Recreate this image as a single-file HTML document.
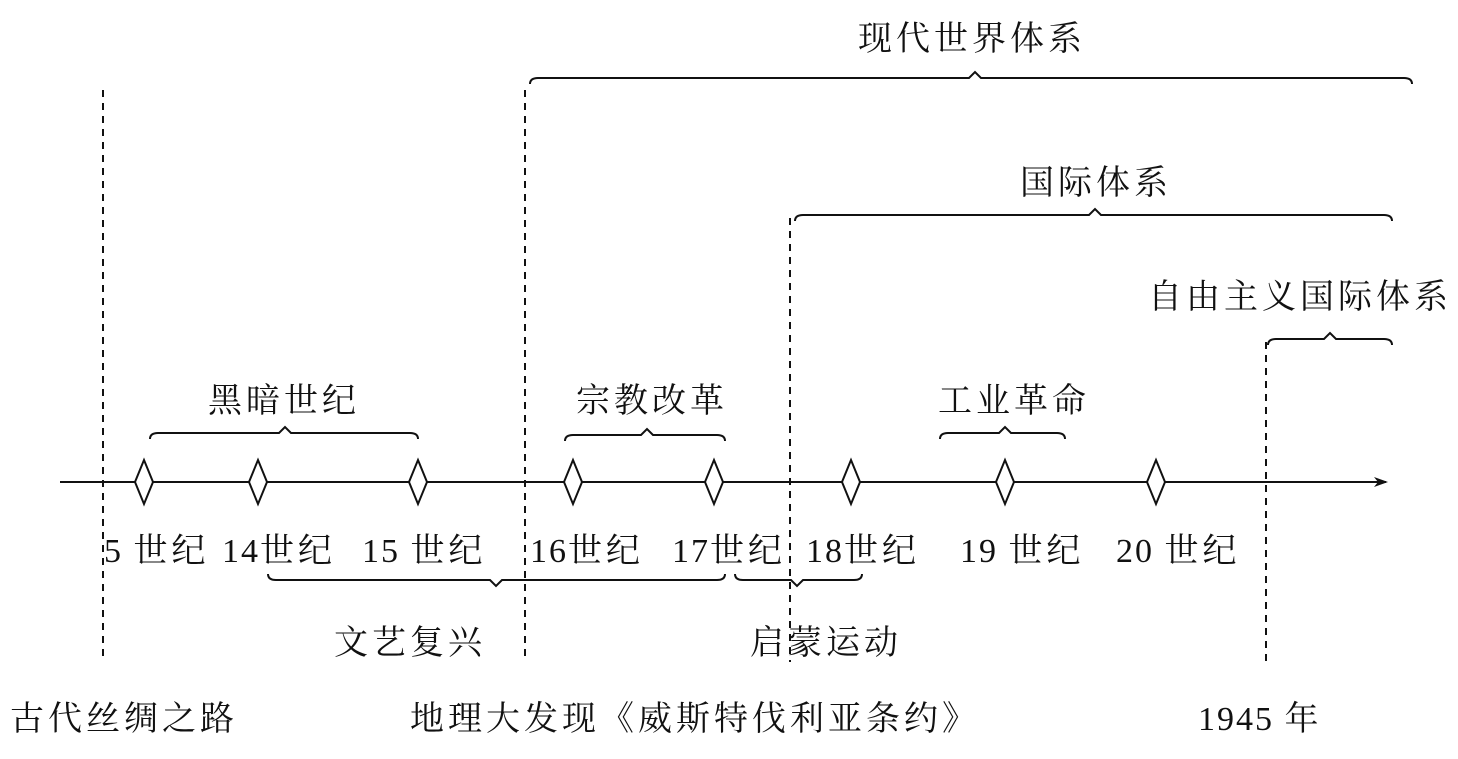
<!DOCTYPE html>
<html><head><meta charset="utf-8"><style>
html,body{margin:0;padding:0;background:#fff;}
svg text{font-family:"Liberation Serif","Noto Serif CJK SC",serif;font-size:34px;fill:#111;letter-spacing:4px;}
svg tspan.d{letter-spacing:2px;}
</style></head><body>
<svg width="1458" height="754" viewBox="0 0 1458 754" xmlns="http://www.w3.org/2000/svg">
<defs><marker id="a" markerWidth="14" markerHeight="10" refX="12" refY="5" orient="auto" markerUnits="userSpaceOnUse"><path d="M0,0 L14,5 L0,10 L4,5 Z" fill="#111"/></marker></defs>
<g stroke="#111" stroke-width="2" fill="none">
<line x1="60" y1="482" x2="1386" y2="482" marker-end="url(#a)"/>
<g stroke-dasharray="7,6">
<line x1="103" y1="90" x2="103" y2="662"/>
<line x1="525" y1="90" x2="525" y2="662"/>
<line x1="790" y1="218" x2="790" y2="662"/>
<line x1="1266" y1="342" x2="1266" y2="662"/>
</g>
<g fill="#fff">
<path d="M144,460 L153,482 L144,504 L135,482 Z"/>
<path d="M258,460 L267,482 L258,504 L249,482 Z"/>
<path d="M418,460 L427,482 L418,504 L409,482 Z"/>
<path d="M573,460 L582,482 L573,504 L564,482 Z"/>
<path d="M714,460 L723,482 L714,504 L705,482 Z"/>
<path d="M851,460 L860,482 L851,504 L842,482 Z"/>
<path d="M1005,460 L1014,482 L1005,504 L996,482 Z"/>
<path d="M1156,460 L1165,482 L1156,504 L1147,482 Z"/>
</g>
<path d="M530,84 Q530,78 538,78 L969,78 L975,72 L981,78 L1404,78 Q1412,78 1412,84"/>
<path d="M795,221 Q795,215 803,215 L1089,215 L1095,209 L1101,215 L1384,215 Q1392,215 1392,221"/>
<path d="M1268,345 Q1268,339 1276,339 L1324,339 L1330,333 L1336,339 L1384,339 Q1392,339 1392,345"/>
<path d="M150,439 Q150,433 158,433 L279,433 L285,427 L291,433 L410,433 Q418,433 418,439"/>
<path d="M565,441 Q565,435 573,435 L641,435 L647,429 L653,435 L717,435 Q725,435 725,441"/>
<path d="M940,439 Q940,433 948,433 L999,433 L1005,427 L1011,433 L1057,433 Q1065,433 1065,439"/>
<path d="M268,574 Q268,580 276,580 L490,580 L496,586 L502,580 L717,580 Q725,580 725,574"/>
<path d="M735,574 Q735,580 743,580 L791,580 L797,586 L803,580 L854,580 Q862,580 862,574"/>
</g>
<text x="858" y="50">现代世界体系</text>
<text x="1020" y="194">国际体系</text>
<text x="1148" y="308">自由主义国际体系</text>
<text x="208" y="412">黑暗世纪</text>
<text x="576" y="412">宗教改革</text>
<text x="938" y="412">工业革命</text>
<text x="104" y="562"><tspan class="d">5 </tspan>世纪</text>
<text x="222" y="562"><tspan class="d">14</tspan>世纪</text>
<text x="362" y="562"><tspan class="d">15 </tspan>世纪</text>
<text x="530" y="562"><tspan class="d">16</tspan>世纪</text>
<text x="672" y="562"><tspan class="d">17</tspan>世纪</text>
<text x="806" y="562"><tspan class="d">18</tspan>世纪</text>
<text x="960" y="562"><tspan class="d">19 </tspan>世纪</text>
<text x="1116" y="562"><tspan class="d">20 </tspan>世纪</text>
<text x="334" y="654">文艺复兴</text>
<text x="750" y="654">启蒙运动</text>
<text x="10" y="730">古代丝绸之路</text>
<text x="410" y="730">地理大发现《威斯特伐利亚条约》</text>
<text x="1198" y="730"><tspan class="d">1945 </tspan>年</text>
</svg>
</body></html>
